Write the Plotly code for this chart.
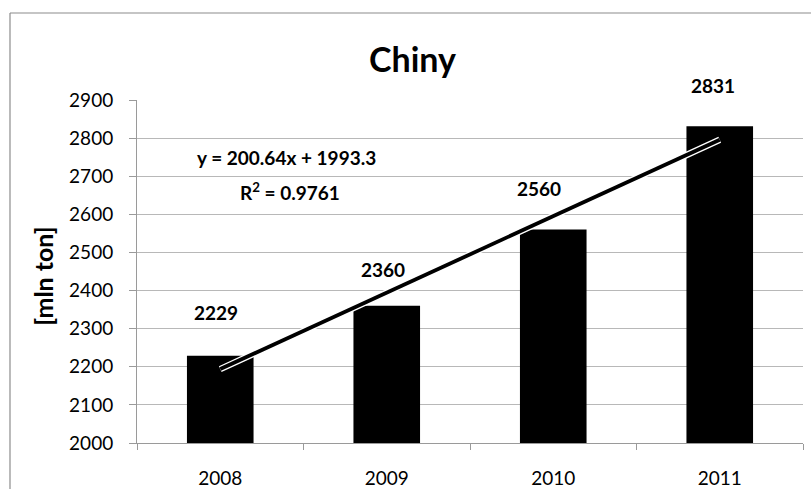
import plotly.graph_objects as go

# ---- data ----
years = ["2008", "2009", "2010", "2011"]
values = [2229, 2360, 2560, 2831]
trend_slope = 200.64
trend_intercept = 1993.3
r_squared = 0.9761
title_text = "Chiny"
y_title = "[mln ton]"

FONT = "Lato"

# trend line endpoints at first and last category (x = 1..n)
n = len(years)
trend_x = [years[0], years[-1]]
trend_y = [trend_slope * 1 + trend_intercept, trend_slope * n + trend_intercept]

fig = go.Figure()
fig.add_trace(go.Bar(x=years, y=values, marker=dict(color="black", line=dict(width=0)),
                     showlegend=False, hoverinfo="skip"))
# compound trend line: white edge + black core
fig.add_trace(go.Scatter(x=trend_x, y=trend_y, mode="lines",
                         line=dict(color="white", width=6.5), showlegend=False, hoverinfo="skip"))
fig.add_trace(go.Scatter(x=trend_x, y=trend_y, mode="lines",
                         line=dict(color="black", width=3.8), showlegend=False, hoverinfo="skip"))

# data labels (manually placed offsets as in reference)
label_xshift = [-4, -4, -14, -7]
label_yshift = [43, 36, 41, 41]
annotations = []
for i, v in enumerate(values):
    annotations.append(dict(x=i, y=v, xref="x", yref="y", text=f"<b>{v}</b>",
                            showarrow=False, xshift=label_xshift[i], yshift=label_yshift[i],
                            yanchor="middle", xanchor="center",
                            font=dict(family=FONT, size=19, color="black")))

annotations.append(dict(x=0.413, y=1.12, xref="paper", yref="paper", text=f"<b>{title_text}</b>",
                        showarrow=False, xanchor="center", yanchor="middle",
                        font=dict(family=FONT, size=34, color="black")))
annotations.append(dict(x=-0.141, y=0.485, xref="paper", yref="paper", text=f"<b>{y_title}</b>",
                        showarrow=False, xanchor="center", yanchor="middle", textangle=-90,
                        font=dict(family=FONT, size=25, color="black")))
annotations.append(dict(x=0.225, y=0.831, xref="paper", yref="paper",
                        text=f"<b>y = {trend_slope}x + {trend_intercept}</b>",
                        showarrow=False, xanchor="center", yanchor="middle",
                        font=dict(family=FONT, size=19, color="black")))
annotations.append(dict(x=0.23, y=0.732, xref="paper", yref="paper",
                        text=f"<b>R<sup>2</sup> = {r_squared}</b>",
                        showarrow=False, xanchor="center", yanchor="middle",
                        font=dict(family=FONT, size=19, color="black")))

border = "#8c8c8c"
shapes = [
    dict(type="line", xref="paper", yref="paper", x0=-0.1907, x1=-0.1907, y0=-0.3, y1=1.2536,
         line=dict(color=border, width=1.2)),
    dict(type="line", xref="paper", yref="paper", x0=-0.1907, x1=1.2, y0=1.2536, y1=1.2536,
         line=dict(color=border, width=1.2)),
]

fig.update_layout(
    width=811, height=489, autosize=False,
    margin=dict(l=137, r=8, t=100, b=46, pad=0),
    paper_bgcolor="white", plot_bgcolor="white",
    bargap=0.6,
    font=dict(family=FONT, color="black"),
    annotations=annotations,
    shapes=shapes,
    xaxis=dict(type="category", range=[-0.5, len(years) - 0.5], automargin=False,
               showline=True, linecolor="#9a9a9a", linewidth=1,
               ticks="outside", tickson="boundaries", ticklen=6, tickcolor="#9a9a9a",
               tickfont=dict(family=FONT, size=19, color="black"), ticklabelstandoff=18,
               tickangle=0, showgrid=False),
    yaxis=dict(range=[2000, 2900], dtick=100, tick0=2000, showline=True, linecolor="#9a9a9a",
               linewidth=1, ticks="outside", ticklen=7, tickcolor="#9a9a9a", automargin=False,
               tickfont=dict(family=FONT, size=19, color="black"), ticklabelstandoff=12,
               showgrid=True, gridcolor="#b8b8b8", gridwidth=1, zeroline=False),
)

fig.write_html("out.html")
